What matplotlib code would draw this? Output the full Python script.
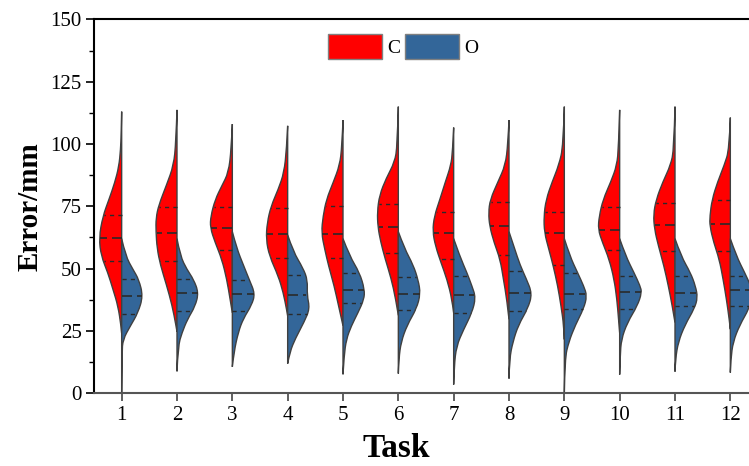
import numpy as np
import matplotlib.pyplot as plt
from matplotlib.ticker import MultipleLocator
from matplotlib.patches import Patch, PathPatch
from matplotlib.path import Path

####################################
#               Data               #
####################################

tasks = list(range(1, 13))

# half-violin outlines: error value (mm) and half width
c_y = [
    [113, 104, 97.8, 91, 84.4, 77.7, 71, 62.3, 55, 48.3, 41.6, 34.9, 27, 24],
    [113.7, 100.9, 91.5, 83.5, 75.5, 70.2, 64.8, 58.1, 51.4, 43.4, 35.3, 27.3, 24.6],
    [108, 97.8, 88.5, 83.2, 77.7, 71, 66.4, 60.4, 53.7, 45.6, 37.6, 32.2],
    [107.3, 98, 88.5, 81.8, 75.1, 68.4, 61.7, 55, 47, 40.3, 33.6, 31],
    [109.6, 99, 91.5, 84.4, 77.7, 71, 64.4, 57.7, 51, 43, 35, 27],
    [115, 99.1, 92.8, 86.2, 79.5, 72.8, 66.8, 60.8, 54, 46, 38, 31.2],
    [106.6, 97, 91.5, 84.8, 77.7, 71, 65, 59.1, 52.4, 45.6, 37.6, 32.2],
    [109.6, 100, 91.5, 84.8, 77.7, 72.4, 67, 60.4, 53.7, 45.6, 37.6, 29.6],
    [115, 99.1, 91.5, 84.8, 77.7, 71, 64.4, 57.7, 51, 43, 35, 27, 21.5],
    [113.7, 99, 91.5, 84.8, 77.7, 71, 65.7, 60.4, 53.7, 45.6, 37.6, 29.6, 24.2],
    [115, 97.8, 91.5, 84.8, 77.7, 71.7, 65.7, 59.1, 51, 43, 35, 28.3],
    [110.6, 97.8, 91.5, 84.8, 77.7, 71, 67, 60.4, 53.7, 45.6, 37.6, 29.6, 25.6],
]
c_w = [
    [0, 0.008, 0.02, 0.05, 0.126, 0.23, 0.34, 0.41, 0.37, 0.25, 0.157, 0.066, 0.012, 0],
    [0, 0.02, 0.06, 0.19, 0.33, 0.38, 0.38, 0.36, 0.30, 0.19, 0.09, 0.02, 0],
    [0, 0.02, 0.07, 0.19, 0.31, 0.39, 0.40, 0.31, 0.19, 0.10, 0.04, 0],
    [0, 0.02, 0.066, 0.17, 0.30, 0.37, 0.39, 0.33, 0.17, 0.08, 0.02, 0],
    [0, 0.02, 0.06, 0.18, 0.30, 0.36, 0.39, 0.33, 0.26, 0.16, 0.08, 0],
    [0, 0.02, 0.066, 0.22, 0.34, 0.38, 0.37, 0.32, 0.24, 0.13, 0.05, 0],
    [0, 0.02, 0.05, 0.15, 0.25, 0.35, 0.38, 0.33, 0.23, 0.12, 0.03, 0],
    [0, 0.02, 0.066, 0.20, 0.34, 0.37, 0.35, 0.27, 0.16, 0.10, 0.04, 0],
    [0, 0.02, 0.10, 0.22, 0.33, 0.37, 0.36, 0.28, 0.20, 0.12, 0.06, 0.01, 0],
    [0, 0.02, 0.05, 0.16, 0.30, 0.37, 0.39, 0.31, 0.19, 0.10, 0.05, 0.02, 0],
    [0, 0.02, 0.08, 0.22, 0.34, 0.39, 0.37, 0.30, 0.20, 0.12, 0.05, 0],
    [0, 0.02, 0.11, 0.23, 0.33, 0.37, 0.37, 0.30, 0.20, 0.13, 0.07, 0.02, 0],
]
o_y = [
    [62, 55, 49.6, 45.6, 38.9, 32.2, 26.9, 21.5, 16.2, 0],
    [62, 55, 49.6, 45.6, 40.3, 34.9, 29.6, 24.2, 18.8, 8.7],
    [64.8, 58.1, 51.4, 45.3, 39.9, 35.3, 29.9, 24.6, 16.5, 10.5],
    [63.5, 56.8, 50.1, 45.3, 39.3, 33.9, 28.6, 21.9, 16.5, 11.8],
    [62, 55, 48.3, 41.6, 37.6, 32.2, 26.9, 21.5, 14.9, 7.5],
    [64.8, 58.1, 51.4, 45.3, 39.9, 33.9, 27.3, 20.5, 13.8, 7.8],
    [62, 55, 48.3, 43, 38.3, 32.2, 25.5, 18.8, 10.8, 3.4],
    [64.8, 58.1, 51.4, 46, 39.9, 33.9, 27.3, 20.5, 13.8, 5.8],
    [62, 55, 48.3, 43, 39, 33.9, 27.3, 20.5, 13.8, 0],
    [62, 55, 48.3, 43, 40.3, 35, 28.3, 21.5, 14.9, 7.4],
    [62, 55, 48.3, 43, 38.3, 33.9, 27.3, 20.5, 13.8, 8.6],
    [62, 55, 48.3, 43, 39, 33.9, 27.3, 20.5, 13.8, 8.2],
]
o_w = [
    [0, 0.072, 0.205, 0.31, 0.386, 0.295, 0.157, 0.024, 0.005, 0],
    [0, 0.06, 0.18, 0.30, 0.39, 0.33, 0.19, 0.09, 0.02, 0],
    [0, 0.08, 0.20, 0.31, 0.41, 0.35, 0.20, 0.11, 0.03, 0],
    [0, 0.10, 0.28, 0.36, 0.35, 0.40, 0.30, 0.14, 0.04, 0],
    [0, 0.12, 0.30, 0.39, 0.38, 0.27, 0.15, 0.06, 0.02, 0],
    [0, 0.11, 0.27, 0.36, 0.40, 0.33, 0.16, 0.05, 0.01, 0],
    [0, 0.11, 0.24, 0.33, 0.40, 0.33, 0.18, 0.05, 0.01, 0],
    [0, 0.10, 0.20, 0.31, 0.42, 0.34, 0.17, 0.07, 0.01, 0],
    [0, 0.10, 0.24, 0.35, 0.41, 0.35, 0.20, 0.08, 0.01, 0],
    [0, 0.11, 0.26, 0.37, 0.40, 0.32, 0.14, 0.03, 0.01, 0],
    [0, 0.11, 0.28, 0.37, 0.41, 0.35, 0.18, 0.06, 0.01, 0],
    [0, 0.11, 0.26, 0.37, 0.40, 0.34, 0.17, 0.05, 0.01, 0],
]

# quartiles and medians
c_q3 = [71.5, 74.8, 74.6, 74.4, 75.3, 76.1, 72.8, 76.6, 72.8, 74.6, 76.4, 77.7]
c_med = [62.3, 64.4, 66.4, 64.0, 64.0, 66.8, 64.4, 67.0, 64.1, 65.5, 67.3, 68.0]
c_q1 = [53.0, 53.0, 57.3, 54.4, 54.4, 56.4, 54.0, 55.3, 51.4, 57.3, 57.0, 57.1]
o_q3 = [45.6, 45.6, 45.3, 47.3, 48.0, 46.6, 47.0, 49.0, 48.0, 46.8, 46.8, 47.0]
o_med = [38.9, 40.3, 39.6, 39.3, 41.3, 39.9, 39.3, 40.0, 39.9, 40.6, 40.3, 41.3]
o_q1 = [31.8, 33.0, 33.0, 31.6, 36.0, 33.3, 32.2, 32.8, 33.9, 33.6, 35.0, 35.0]

####################################
#            Parameters            #
####################################

red = '#ff0000'
blue = '#336699'
edge = '#404040'
plt.rcParams['font.family'] = ['Liberation Serif', 'DejaVu Serif']

####################################
#             Functions            #
####################################

def half_violin(ax, x, ys, ws, side, color):
    # outline points used as quadratic bezier controls -> smooth edge
    pts = np.column_stack([x + side * np.array(ws, dtype=float), np.array(ys, dtype=float)])
    verts = [pts[0]]
    codes = [Path.MOVETO]
    n = len(pts)
    for k in range(1, n - 1):
        end = pts[-1] if k == n - 2 else (pts[k] + pts[k + 1]) / 2
        verts += [pts[k], end]
        codes += [Path.CURVE3, Path.CURVE3]
    verts += [pts[0], pts[0]]
    codes += [Path.LINETO, Path.CLOSEPOLY]
    ax.add_patch(PathPatch(Path(verts, codes), facecolor=color, edgecolor=edge,
                           lw=1.0, zorder=2))


def quart_line(ax, x, ys, ws, side, val, style, lw):
    order = np.argsort(ys)
    w = np.interp(val, np.array(ys)[order], np.array(ws)[order]) * 0.96
    ax.plot([x, x + side * w], [val, val], color='#2a2a2a', ls=style, lw=lw, zorder=4)

####################################
#               Main               #
####################################

fig = plt.figure(figsize=(7.49, 4.66), dpi=100)
ax = fig.add_axes([94 / 749, 73 / 466, 664 / 749, 373.5 / 466])

for i, t in enumerate(tasks):
    half_violin(ax, t, c_y[i], c_w[i], -1, red)
    half_violin(ax, t, o_y[i], o_w[i], 1, blue)
    for v, st, lw in [(c_q3[i], (0, (3, 3)), 1.0), (c_med[i], (0, (6, 3)), 1.2), (c_q1[i], (0, (3, 3)), 1.0)]:
        quart_line(ax, t, c_y[i], c_w[i], -1, v, st, lw)
    for v, st, lw in [(o_q3[i], (0, (3, 3)), 1.0), (o_med[i], (0, (6, 3)), 1.2), (o_q1[i], (0, (3, 3)), 1.0)]:
        quart_line(ax, t, o_y[i], o_w[i], 1, v, st, lw)

ax.set_xlim(0.5, 12.5)
ax.set_ylim(0, 150)
ax.set_xticks(tasks)
ax.yaxis.set_major_locator(MultipleLocator(25))
ax.yaxis.set_minor_locator(MultipleLocator(12.5))
ax.tick_params(axis='both', which='major', direction='out', length=6, width=1.2,
               labelsize=15, pad=3)
ax.tick_params(axis='y', which='minor', direction='out', length=3.5, width=1.0)
ax.tick_params(axis='x', colors='#444444', labelcolor='black')

ax.spines['right'].set_visible(False)
ax.spines['left'].set_linewidth(1.5)
ax.spines['top'].set_linewidth(1.5)
ax.spines['bottom'].set_linewidth(1.5)
ax.spines['bottom'].set_color('#555555')

ax.set_xlabel('Task', fontsize=24, fontweight='bold')
ax.set_ylabel('Error/mm', fontsize=21, fontweight='bold')
ax.xaxis.set_label_coords(0.456, -0.106)
ax.yaxis.set_label_coords(-0.076, 0.5)

handles = [Patch(facecolor=red, edgecolor='#808080', label='C'),
           Patch(facecolor=blue, edgecolor='#808080', label='O')]
ax.legend(handles=handles, ncol=2, loc='upper left', bbox_to_anchor=(0.352, 0.962),
          frameon=False, fontsize=14, handlelength=2.8, handleheight=1.6,
          handletextpad=0.25, columnspacing=0.25, borderpad=0, borderaxespad=0)

plt.savefig('out.png', dpi=100)
